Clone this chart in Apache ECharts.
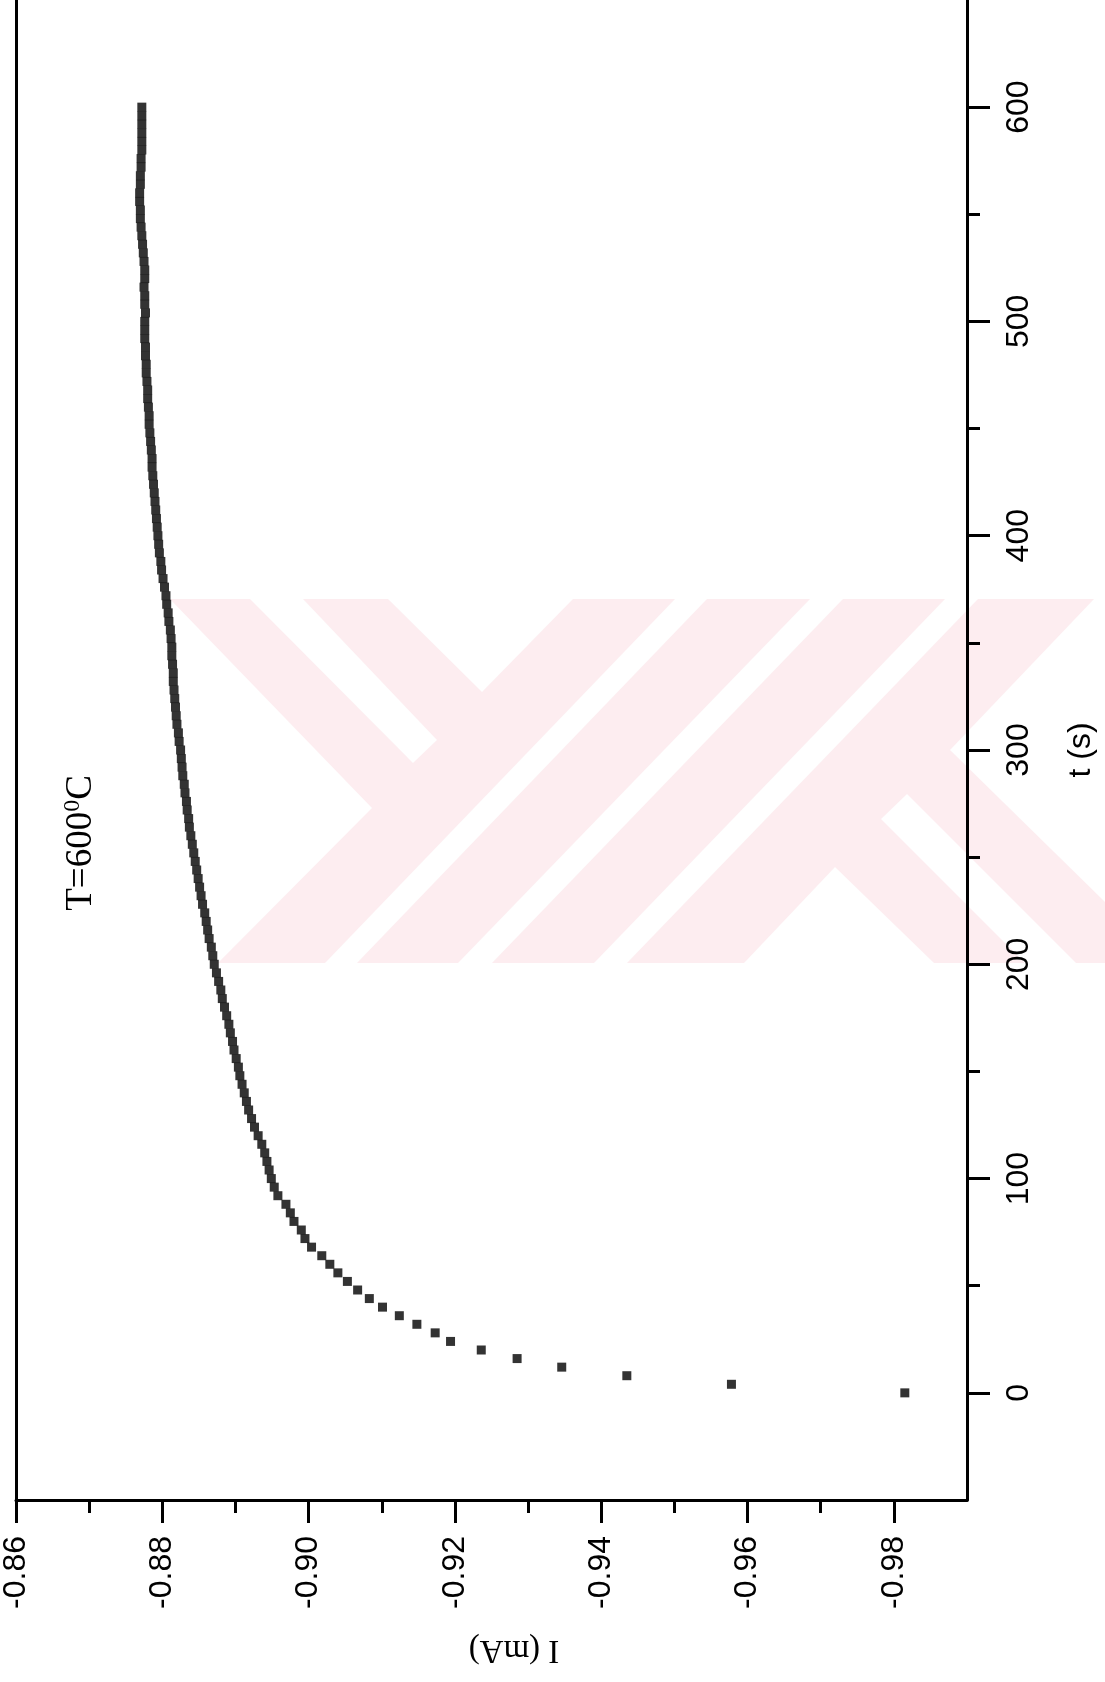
<!DOCTYPE html>
<html>
<head>
<meta charset="utf-8">
<script src="https://cdn.jsdelivr.net/npm/echarts@6/dist/echarts.min.js"></script>
<style>
  html, body { margin: 0; padding: 0; background: #fff; }
  #chart { width: 1105px; height: 1682px; }
</style>
</head>
<body>
<div id="chart"></div>
<script>
// Sampling times (s)
const times = [
  0, 4, 8, 12, 16, 20, 24, 28, 32, 36,
  40, 44, 48, 52, 56, 60, 64, 68, 72, 76,
  80, 84, 88, 92, 96, 100, 104, 108, 112, 116,
  120, 124, 128, 132, 136, 140, 144, 148, 152, 156,
  160, 164, 168, 172, 176, 180, 184, 188, 192, 196,
  200, 204, 208, 212, 216, 220, 224, 228, 232, 236,
  240, 244, 248, 252, 256, 260, 264, 268, 272, 276,
  280, 284, 288, 292, 296, 300, 304, 308, 312, 316,
  320, 324, 328, 332, 336, 340, 344, 348, 352, 356,
  360, 364, 368, 372, 376, 380, 384, 388, 392, 396,
  400, 404, 408, 412, 416, 420, 424, 428, 432, 436,
  440, 444, 448, 452, 456, 460, 464, 468, 472, 476,
  480, 484, 488, 492, 496, 500, 504, 508, 512, 516,
  520, 524, 528, 532, 536, 540, 544, 548, 552, 556,
  560, 564, 568, 572, 576, 580, 584, 588, 592, 596,
  600
];

// Measured current (mA) at each sampling time
const current = [
  -0.9815, -0.9578, -0.9435, -0.9346, -0.9285, -0.9236, -0.9194, -0.9173, -0.9148, -0.9124,
  -0.9101, -0.9083, -0.9067, -0.9053, -0.9040, -0.9029, -0.9018, -0.9004, -0.8995, -0.8990,
  -0.8980, -0.8975, -0.8969, -0.8958, -0.8953, -0.8949, -0.8946, -0.8943, -0.8940, -0.8936,
  -0.8931, -0.8926, -0.8922, -0.8918, -0.8915, -0.8912, -0.8909, -0.8906, -0.8904, -0.8901,
  -0.8898, -0.8896, -0.8893, -0.8891, -0.8888, -0.8885, -0.8882, -0.8880, -0.8877, -0.8874,
  -0.8871, -0.8869, -0.8867, -0.8864, -0.8862, -0.8860, -0.8858, -0.8855, -0.8853, -0.8851,
  -0.8849, -0.8847, -0.8845, -0.8843, -0.8841, -0.8839, -0.8837, -0.8836, -0.8834, -0.8833,
  -0.8831, -0.8830, -0.8828, -0.8827, -0.8826, -0.8825, -0.8823, -0.8822, -0.8820, -0.8819,
  -0.8818, -0.8817, -0.8816, -0.8815, -0.8815, -0.8814, -0.8813, -0.8813, -0.8812, -0.8811,
  -0.8809, -0.8808, -0.8806, -0.8805, -0.8803, -0.8801, -0.8799, -0.8798, -0.8796, -0.8795,
  -0.8794, -0.8793, -0.8792, -0.8791, -0.8790, -0.8789, -0.8788, -0.8787, -0.8786, -0.8786,
  -0.8785, -0.8784, -0.8783, -0.8782, -0.8782, -0.8781, -0.8780, -0.8780, -0.8779, -0.8778,
  -0.8778, -0.8777, -0.8777, -0.8776, -0.8776, -0.8776, -0.8777, -0.8776, -0.8776, -0.8775,
  -0.8776, -0.8776, -0.8775, -0.8774, -0.8773, -0.8772, -0.8771, -0.8770, -0.8770, -0.8769,
  -0.8769, -0.8770, -0.8770, -0.8771, -0.8771, -0.8772, -0.8772, -0.8772, -0.8772, -0.8772,
  -0.8772
];

// Axis ticks
const currentMajorTicks = [-0.98, -0.96, -0.94, -0.92, -0.90, -0.88, -0.86];
const currentMinorTicks = [-0.97, -0.95, -0.93, -0.91, -0.89, -0.87];
const timeMajorTicks = [0, 100, 200, 300, 400, 500, 600];
const timeMinorTicks = [50, 150, 250, 350, 450, 550];

const SANS = '"Liberation Sans", Arial, sans-serif';
const SERIF = '"Liberation Serif", "Times New Roman", serif';
const LABEL_SIZE = 32;

// Faint background logo built from diagonal bands
const PINK = '#fdedf0';
const logoBase = [[170, 599], [1105, 599], [1105, 963], [218, 963], [372, 808]];
const logoCuts = [
  [[250, 599], [303, 599], [437, 740], [413, 763]],
  [[388, 599], [573, 599], [482, 692]],
  [[675, 599], [707, 599], [357, 963], [325, 963]],
  [[810, 599], [843, 599], [492, 963], [458, 963]],
  [[945, 599], [978, 599], [627, 963], [594, 963]],
  [[744, 963], [835, 867], [934, 963]],
  [[881, 819], [907, 794], [1076, 963], [1025, 963]],
  [[950, 750], [1094, 599], [1105, 599], [1105, 902]]
];

const chart = echarts.init(document.getElementById('chart'), null, { renderer: 'canvas' });

const graphics = [
  { type: 'polygon', z: -10, silent: true, shape: { points: logoBase }, style: { fill: PINK } }
].concat(logoCuts.map(pts => ({
  type: 'polygon', z: -9, silent: true, shape: { points: pts }, style: { fill: '#ffffff' }
})));

// Temperature note, written along the time axis direction
graphics.push({
  type: 'text',
  z: 10,
  x: 81,
  y: 843,
  rotation: Math.PI / 2,
  style: {
    text: '{a|T=600}{s|0}{a|C}',
    align: 'center',
    verticalAlign: 'middle',
    fill: '#000',
    rich: {
      a: { fontFamily: SERIF, fontSize: 37, fill: '#000', lineHeight: 40 },
      s: { fontFamily: SERIF, fontSize: 24, fill: '#000', verticalAlign: 'top', lineHeight: 40 }
    }
  }
});

// Current axis title (page is turned, so it reads upside down)
graphics.push({
  type: 'text',
  z: 10,
  x: 514,
  y: 1650,
  rotation: Math.PI,
  style: {
    text: 'I (mA)',
    align: 'center',
    verticalAlign: 'middle',
    fill: '#000',
    fontFamily: SERIF,
    fontSize: 33
  }
});

const axisLineStyle = { show: true, onZero: false, lineStyle: { color: '#000', width: 3 } };

chart.setOption({
  animation: false,
  backgroundColor: '#fff',
  grid: {
    left: 14, right: 133, top: -4, bottom: 182,
    show: false
  },
  xAxis: [
    {
      type: 'value', position: 'bottom', inverse: true,
      min: -0.99, max: -0.86,
      axisLine: axisLineStyle,
      splitLine: { show: false },
      axisTick: { show: true, customValues: currentMajorTicks, length: 23, lineStyle: { color: '#000', width: 3 } },
      axisLabel: {
        show: true, customValues: currentMajorTicks, rotate: 90, margin: 36,
        fontFamily: SANS, fontSize: LABEL_SIZE, color: '#000',
        formatter: v => v.toFixed(2)
      }
    },
    {
      type: 'value', position: 'bottom', inverse: true,
      min: -0.99, max: -0.86,
      axisLine: { show: false, onZero: false },
      splitLine: { show: false },
      axisTick: { show: true, customValues: currentMinorTicks, length: 13, lineStyle: { color: '#000', width: 3 } },
      axisLabel: { show: false }
    }
  ],
  yAxis: [
    {
      type: 'value', position: 'right',
      min: -50, max: 650,
      axisLine: axisLineStyle,
      splitLine: { show: false },
      axisTick: { show: true, customValues: timeMajorTicks, length: 23, lineStyle: { color: '#000', width: 3 } },
      axisLabel: {
        show: true, customValues: timeMajorTicks, rotate: 90, margin: 36,
        fontFamily: SANS, fontSize: LABEL_SIZE, color: '#000'
      },
      name: 't (s)', nameLocation: 'middle', nameRotate: 90, nameGap: 98,
      nameTextStyle: { fontFamily: SANS, fontSize: 32, color: '#000' }
    },
    {
      type: 'value', position: 'right',
      min: -50, max: 650,
      axisLine: { show: false, onZero: false },
      splitLine: { show: false },
      axisTick: { show: true, customValues: timeMinorTicks, length: 13, lineStyle: { color: '#000', width: 3 } },
      axisLabel: { show: false }
    },
    {
      // left frame line of the plot box
      type: 'value', position: 'left',
      min: -50, max: 650,
      axisLine: axisLineStyle,
      splitLine: { show: false },
      axisTick: { show: false },
      axisLabel: { show: false }
    }
  ],
  graphic: graphics,
  series: [
    {
      type: 'scatter',
      xAxisIndex: 0,
      yAxisIndex: 0,
      symbol: 'rect',
      symbolSize: 9,
      silent: true,
      itemStyle: { color: '#000' },
      data: times.map((t, i) => [current[i], t])
    }
  ]
});
</script>
</body>
</html>
